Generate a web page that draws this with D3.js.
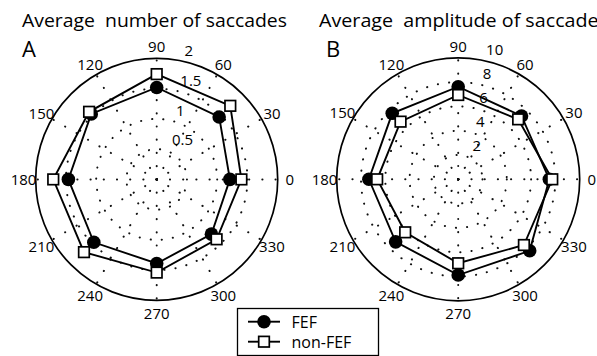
<!DOCTYPE html>
<html><head><meta charset="utf-8">
<script src="https://cdn.jsdelivr.net/npm/d3@7/dist/d3.min.js"></script>
<style>body{margin:0;background:#fff}svg{display:block}text{white-space:pre}</style>
</head><body>
<svg id="chart" width="597" height="356"></svg>
<script>
// ---- data ----
const directions = [0, 45, 90, 135, 180, 225, 270, 315];
const angleTicks = [0, 30, 60, 90, 120, 150, 180, 210, 240, 270, 300, 330];
const countFEF    = [1.21, 1.46, 1.52, 1.53, 1.46, 1.47, 1.39, 1.28];
const countNonFEF = [1.40, 1.72, 1.74, 1.58, 1.71, 1.70, 1.54, 1.40];
const ampFEF      = [7.50, 7.37, 7.62, 7.68, 7.35, 7.28, 7.88, 8.32];
const ampNonFEF   = [7.74, 6.98, 6.94, 6.71, 6.67, 6.17, 6.91, 7.65];
const rTicksA = [0.5, 1, 1.5, 2];
const rTicksB = [2, 4, 6, 8, 10];
const titles = ["Average  number of saccades", "Average  amplitude of saccades"];
const panelLetters = ["A", "B"];
const seriesNames = ["FEF", "non-FEF"];

const FONT = "'Open Sans', sans-serif";
const svg = d3.select("#chart");

function panel(cfg) {
  const {cx, cy, R, rTicks, fef, non, title, letter, titleX, titleW} = cfg;
  const rmax = rTicks[rTicks.length - 1];
  const r = d3.scaleLinear().domain([0, rmax]).range([0, R]);
  const rad = a => a * Math.PI / 180;
  const px = (a, v) => cx + r(v) * Math.cos(rad(a));
  const py = (a, v) => cy - r(v) * Math.sin(rad(a));
  const g = svg.append("g");

  g.append("text").attr("x", titleX).attr("y", 26.5).text(title)
    .attr("font-family", FONT).attr("font-size", 18.5)
    .attr("textLength", titleW).attr("lengthAdjust", "spacingAndGlyphs");
  g.append("text").attr("x", cfg.letterX).attr("y", 56.5).text(letter)
    .attr("font-family", FONT).attr("font-size", 22);

  g.append("circle").attr("cx", cx).attr("cy", cy).attr("r", R).attr("fill", "#fff");

  const dotted = (sel, gap) => sel.attr("fill", "none").attr("stroke", "#111")
    .attr("stroke-width", 2).attr("stroke-linecap", "round")
    .attr("stroke-dasharray", `0.2 ${gap}`);

  g.selectAll(".ring").data(rTicks.slice(0, -1)).join("circle")
    .attr("cx", cx).attr("cy", cy).attr("r", d => r(d)).call(dotted, 11);

  g.selectAll(".spoke").data(angleTicks).join("line")
    .attr("x1", d => px(d, 0)).attr("y1", d => py(d, 0))
    .attr("x2", d => px(d, rmax)).attr("y2", d => py(d, rmax)).call(dotted, 13);

  g.append("circle").attr("cx", cx).attr("cy", cy).attr("r", R)
    .attr("fill", "none").attr("stroke", "#000").attr("stroke-width", 1.7);

  g.selectAll(".alab").data(angleTicks).join("text")
    .attr("x", d => cx + 1.1 * R * Math.cos(rad(d)))
    .attr("y", d => cy - 1.1 * R * Math.sin(rad(d)))
    .attr("text-anchor", "middle").attr("dominant-baseline", "central")
    .attr("font-family", FONT).attr("font-size", 15).text(d => d);

  g.selectAll(".rlab").data(rTicks).join("text")
    .attr("x", d => cx + r(d) * Math.cos(rad(82)) + 11)
    .attr("y", d => cy - (r(d) + 4) * Math.sin(rad(82)))
    .attr("font-family", FONT).attr("font-size", 15).text(d => d);

  const line = d3.lineRadial().angle(d => rad(90 - d[0])).radius(d => r(d[1]))
    .curve(d3.curveLinearClosed);
  const pts = vals => directions.map((a, i) => [a, vals[i]]);

  // FEF
  g.append("path").attr("d", line(pts(fef))).attr("transform", `translate(${cx},${cy})`)
    .attr("fill", "none").attr("stroke", "#000").attr("stroke-width", 1.9);
  g.selectAll(".fef").data(pts(fef)).join("circle")
    .attr("cx", d => px(d[0], d[1])).attr("cy", d => py(d[0], d[1])).attr("r", 6.8)
    .attr("fill", "#000");
  // non-FEF
  g.append("path").attr("d", line(pts(non))).attr("transform", `translate(${cx},${cy})`)
    .attr("fill", "none").attr("stroke", "#000").attr("stroke-width", 1.9);
  g.selectAll(".non").data(pts(non)).join("rect")
    .attr("x", d => px(d[0], d[1]) - 5.3).attr("y", d => py(d[0], d[1]) - 5.3)
    .attr("width", 10.6).attr("height", 10.6)
    .attr("fill", "#fff").attr("stroke", "#000").attr("stroke-width", 1.7);
}

panel({cx: 156.7, cy: 179.4, R: 121, rTicks: rTicksA, fef: countFEF, non: countNonFEF,
  title: titles[0], letter: panelLetters[0], titleX: 22, titleW: 265, letterX: 22});
panel({cx: 458.2, cy: 179.3, R: 121.5, rTicks: rTicksB, fef: ampFEF, non: ampNonFEF,
  title: titles[1], letter: panelLetters[1], titleX: 319, titleW: 289, letterX: 326});

// legend
const lg = svg.append("g");
lg.append("rect").attr("x", 237.5).attr("y", 308.5).attr("width", 141).attr("height", 47)
  .attr("fill", "#fff").attr("stroke", "#000").attr("stroke-width", 1.3);
const rows = [321.7, 341.7];
seriesNames.forEach((name, i) => {
  const y = rows[i];
  lg.append("line").attr("x1", 248).attr("x2", 280).attr("y1", y).attr("y2", y)
    .attr("stroke", "#000").attr("stroke-width", 1.9);
  if (i === 0) lg.append("circle").attr("cx", 264).attr("cy", y).attr("r", 6.8).attr("fill", "#000");
  else lg.append("rect").attr("x", 258.7).attr("y", y - 5.3).attr("width", 10.6).attr("height", 10.6)
    .attr("fill", "#fff").attr("stroke", "#000").attr("stroke-width", 1.7);
  lg.append("text").attr("x", 291.5).attr("y", y).attr("dominant-baseline", "central")
    .attr("font-family", FONT).attr("font-size", 16).text(name);
});
</script>
</body></html>
